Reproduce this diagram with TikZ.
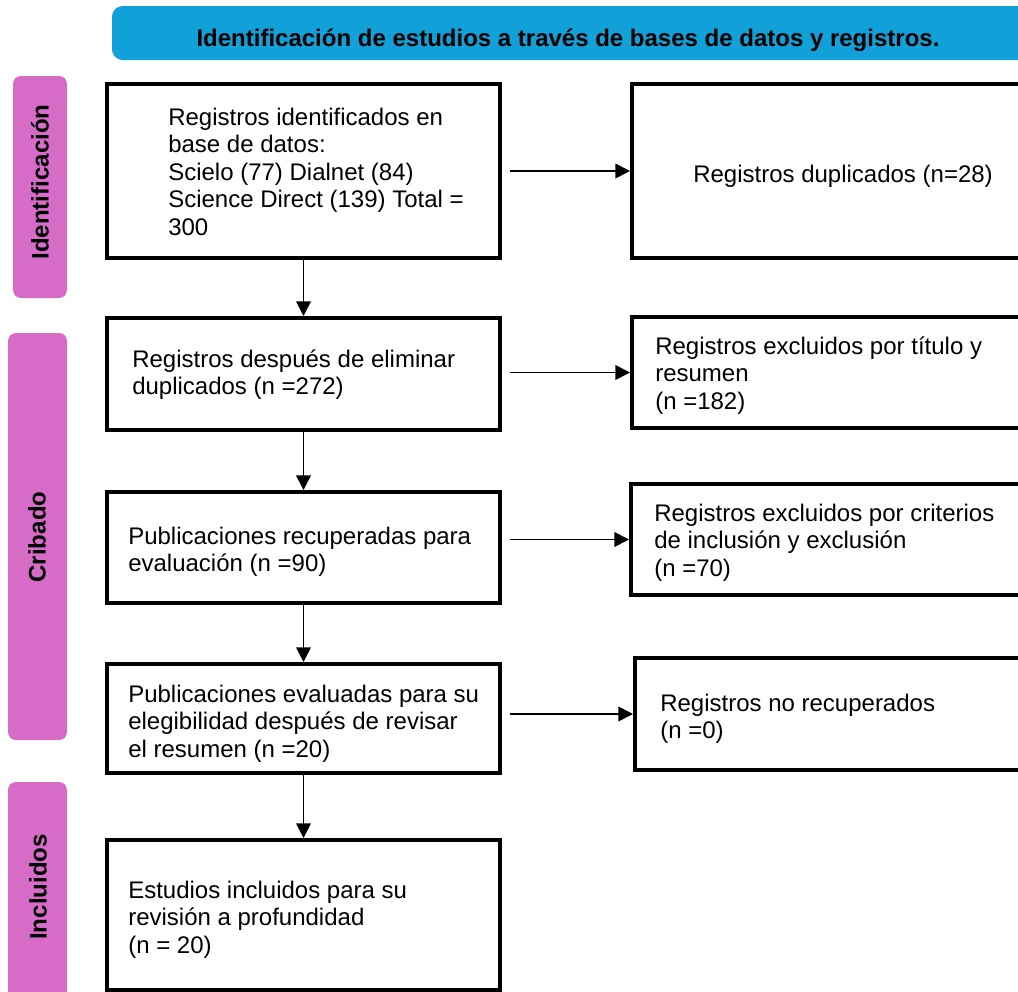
\documentclass[tikz,border=0pt]{standalone}
\usepackage{fontspec}
\setmainfont{Liberation Sans}
\usepackage{tikz}
\usetikzlibrary{arrows.meta}
\usetikzlibrary{positioning}

\definecolor{bannerblue}{RGB}{17,160,216}
\definecolor{phasepink}{RGB}{214,108,200}

\tikzset{
  stagebox/.style={draw, line width=3pt, rectangle, inner sep=0pt},
  phasebar/.style={fill=phasepink, rounded corners=6pt, inner sep=0pt},
  phaselabel/.style={rotate=90, inner sep=0pt, font=\bfseries\fontsize{18}{20}\selectfont},
  boxtext/.style={anchor=base west, inner sep=0pt, align=left, font=\fontsize{18}{20.6}\selectfont},
  flow/.style={line width=1.3pt, -{Triangle[length=11pt,width=11pt]}},
}

\begin{document}
\begin{tikzpicture}[x=0.75pt,y=0.75pt,yscale=-1,xscale=1]
\useasboundingbox (0,0) rectangle (1018,992);
\clip (0,0) rectangle (1018,992);

%Rounded Rect: banner
\node[fill=bannerblue, rounded corners=8pt, inner sep=0pt, minimum width=688.5pt, minimum height=40.5pt] (banner) at (571,33) {};
% Text Node
\node[anchor=base, inner sep=0pt, font=\bfseries\fontsize{18}{20}\selectfont] (title) at (568,46) {Identificación de estudios a través de bases de datos y registros.};

%Rounded Rect: phase bars
\node[phasebar, minimum width=40.5pt, minimum height=166.5pt] (idbar) at (40,187) {};
\node[phasebar, minimum width=44.25pt, minimum height=305.25pt] (cribbar) at (37.5,536.5) {};
\node[phasebar, minimum width=44.25pt, minimum height=163.5pt] (inclbar) at (37.5,891) {};
% Text Node
\node[phaselabel] (idlab) at (40,182) {Identificación};
\node[phaselabel] (criblab) at (37,537) {Cribado};
\node[phaselabel] (incllab) at (38,887) {Incluidos};

%Shape: Rectangle (left column)
\node[stagebox, minimum width=294.75pt, minimum height=130.5pt] (b1) at (303.5,171) {};
\node[stagebox, minimum width=294.75pt, minimum height=84pt] (b2) at (303.5,374) {};
\node[stagebox, minimum width=294.75pt, minimum height=83.25pt] (b3) at (303.5,547.5) {};
\node[stagebox, minimum width=294.75pt, minimum height=81.75pt] (b4) at (303.5,718.5) {};
\node[stagebox, minimum width=294.75pt, minimum height=112.5pt] (b5) at (303.5,915) {};

%Shape: Rectangle (right column)
\node[stagebox, minimum width=298.5pt, minimum height=130.5pt] (r1) at (831,171) {};
\node[stagebox, minimum width=298.5pt, minimum height=83.25pt] (r2) at (831,372.5) {};
\node[stagebox, minimum width=299.25pt, minimum height=83.25pt] (r3) at (830.5,539.5) {};
\node[stagebox, minimum width=296.25pt, minimum height=84pt] (r4) at (832.5,714) {};

% Text Node (anchored on the baseline of the last line)
\node[boxtext] (t1) at (168,235) {Registros identificados en\\base de datos:\\Scielo (77) Dialnet (84)\\Science Direct (139) Total =\\300};
\node[boxtext] (t2) at (132,394.5) {Registros después de eliminar\\duplicados (n =272)};
\node[boxtext] (t3) at (128,571.5) {Publicaciones recuperadas para\\evaluación (n =90)};
\node[boxtext] (t4) at (128,757) {Publicaciones evaluadas para su\\elegibilidad después de revisar\\el resumen (n =20)};
\node[boxtext] (t5) at (128,953) {Estudios incluidos para su\\revisión a profundidad\\(n = 20)};
\node[boxtext] (u1) at (693,182) {Registros duplicados (n=28)};
\node[boxtext] (u2) at (655,409) {Registros excluidos por título y\\resumen\\(n =182)};
\node[boxtext] (u3) at (654,576) {Registros excluidos por criterios\\de inclusión y exclusión\\(n =70)};
\node[boxtext] (u4) at (660,738.5) {Registros no recuperados\\(n =0)};

%Straight Lines
\draw[flow] (b1) -- (b2);
\draw[flow] (b2) -- (b3);
\draw[flow] (b3) -- (b4);
\draw[flow] (b4) -- (b5);
\draw[flow, shorten <=6pt] (b1.east |- r1.west) -- (r1.west);
\draw[flow, shorten <=6pt] (b2.east |- r2.west) -- (r2.west);
\draw[flow, shorten <=6pt] (b3.east |- r3.west) -- (r3.west);
\draw[flow, shorten <=6pt] (b4.east |- r4.west) -- (r4.west);

\end{tikzpicture}
\end{document}
